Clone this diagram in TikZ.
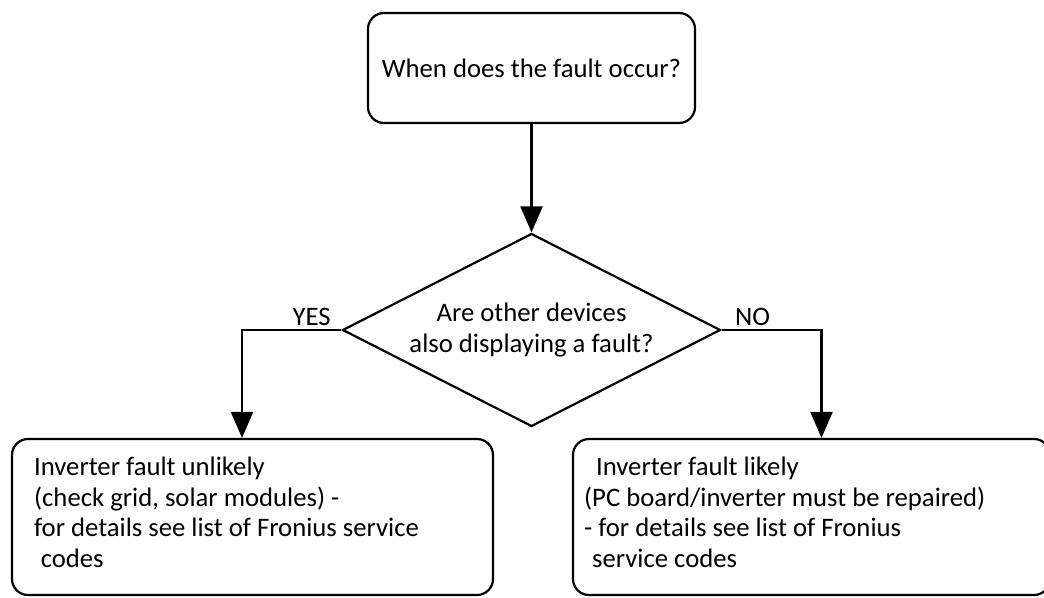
\documentclass[tikz,border=0pt]{standalone}
\usepackage{fontspec}
\setmainfont{Carlito}
\usetikzlibrary{arrows.meta,shapes.geometric}

\begin{document}
\begin{tikzpicture}[
    x=1pt,
    y=-1pt,
    line width=2.2pt,
    every node/.style={font=\fontsize{26.7}{30.5}\selectfont},
    box/.style={draw, rounded corners=16pt},
    decision/.style={draw, diamond, aspect=2, inner sep=0pt, align=center,
      minimum width=378pt, minimum height=193pt},
    textblock/.style={inner sep=0pt, anchor=north west, align=left},
    flow/.style={-{Triangle[width=22pt,length=26pt]}}]

    \useasboundingbox (0,0) rectangle (1044,597);
    \clip (0,0) rectangle (1044,597);

    % Question
    \node[box, minimum width=327pt, minimum height=110pt] (q1) at (531.5,68)
      {When does the fault occur?};

    % Decision
    \node[decision] (q2) at (531.5,330)
      {Are other devices\\also displaying a fault?};

    % Results
    \node[box, minimum width=481pt, minimum height=156pt] (r1) at (252.5,517) {};
    \node[box, minimum width=477pt, minimum height=156pt] (r2) at (811.5,517) {};

    \node[textblock] (t1) at (33,456)
      {Inverter fault unlikely\\
       (check grid, solar modules) -\\
       for details see list of Fronius service\\
       \hspace*{0.25em}codes};
    \node[textblock] (t2) at (583,456)
      {\hspace*{0.45em}Inverter fault likely\\
       (PC board/inverter must be repaired)\\
       - for details see list of Fronius\\
       \hspace*{0.3em}service codes};

    % Connectors
    \draw[flow] (q1) -- (q2);
    \draw[flow] (q2.west) -| node[pos=0.15, above] {YES} ([xshift=-10.5pt]r1.north);
    \draw[flow] (q2.east) -| node[pos=0.155, above] {NO} ([xshift=10pt]r2.north);
\end{tikzpicture}
\end{document}
